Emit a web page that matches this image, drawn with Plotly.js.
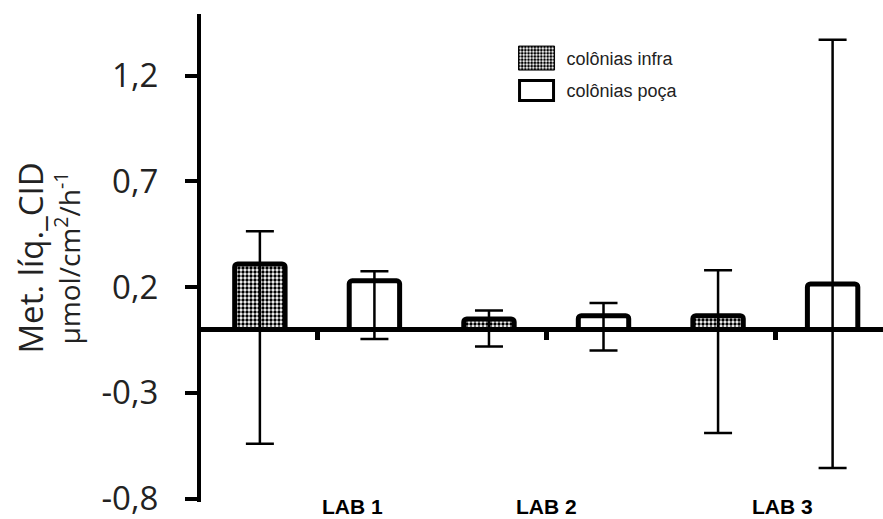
<!DOCTYPE html>
<html>
<head>
<meta charset="utf-8">
<script src="https://cdn.plot.ly/plotly-3.0.1.min.js"></script>
<style>html,body{margin:0;padding:0;background:#fff}#chart{width:883px;height:519px}</style>
</head>
<body>
<div id="chart"></div>
<script>
const categories = ['LAB 1', 'LAB 2', 'LAB 3'];
const seriesNames = ['colônias infra', 'colônias poça'];
const infraValues = [0.31, 0.05, 0.065];
const infraErrPlus = [0.155, 0.04, 0.215];
const infraErrMinus = [0.85, 0.13, 0.555];
const pocaValues = [0.23, 0.065, 0.215];
const pocaErrPlus = [0.045, 0.06, 1.155];
const pocaErrMinus = [0.275, 0.165, 0.87];
const yTickVals = [-0.8, -0.3, 0.2, 0.7, 1.2];
const yTickText = ['-0,8', '-0,3', '0,2', '0,7', '1,2'];

const yRange = [-0.816, 1.492];
const zeroPos = (0 - yRange[0]) / (yRange[1] - yRange[0]);

const errStyle = {type: 'data', symmetric: false, color: '#000', thickness: 2.5, width: 14};

const traces = [
  {
    type: 'bar', name: seriesNames[0], x: categories, y: infraValues, legendgroup: 'g1',
    marker: {color: '#fff', line: {color: '#000', width: 5}, cornerradius: 3,
      pattern: {shape: '.', fgcolor: '#000', bgcolor: '#fff', size: 4, solidity: 0.55}},
    error_y: Object.assign({array: infraErrPlus, arrayminus: infraErrMinus}, errStyle)
  },
  {
    type: 'bar', name: seriesNames[1], x: categories, y: pocaValues, legendgroup: 'g2',
    marker: {color: '#fff', line: {color: '#000', width: 5}, cornerradius: 3},
    error_y: Object.assign({array: pocaErrPlus, arrayminus: pocaErrMinus}, errStyle)
  }
];

const labelShift = [35, 0, 7];
const annotations = categories.map((c, i) => ({
  xref: 'x', yref: 'paper', x: i, y: 0, yanchor: 'middle', yshift: -4, xshift: labelShift[i],
  text: '<b>' + c + '</b>', showarrow: false,
  font: {family: '"Liberation Sans Narrow", "Liberation Sans", Arial, sans-serif', size: 21, color: '#000'}
}));

const layout = {
  width: 883, height: 519,
  margin: {l: 201, r: 0, t: 14, b: 17},
  paper_bgcolor: '#fff', plot_bgcolor: '#fff',
  barmode: 'group', bargap: 0, bargroupgap: 0.56,
  showlegend: true,
  legend: {x: 0.448, y: 0.947, xanchor: 'left', yanchor: 'top', bgcolor: 'rgba(0,0,0,0)',
    font: {family: '"Liberation Sans", Arial, sans-serif', size: 18, color: '#222'},
    itemwidth: 50, traceorder: 'grouped', tracegroupgap: 6},
  xaxis: {
    type: 'category', range: [-0.507, 2.47], anchor: 'free', position: zeroPos,
    showline: true, linecolor: '#000', linewidth: 5,
    ticks: 'outside', ticklen: 8, tickwidth: 5, tickcolor: '#000',
    showticklabels: false, showgrid: false, zeroline: false, fixedrange: true
  },
  yaxis: {
    range: yRange, showline: true, linecolor: '#000', linewidth: 4,
    ticks: 'outside', ticklen: 12, tickwidth: 4, tickcolor: '#000',
    tickvals: yTickVals, ticktext: yTickText, ticklabelstandoff: 20, ticklabeloverflow: 'allow',
    tickfont: {family: '"Open Sans", sans-serif', size: 33, color: '#222'},
    showgrid: false, zeroline: false,
    title: {text: '<span style="font-size:33px">Met. líq._CID</span><br>µmol/cm<sup>2</sup>/h<sup>-1</sup>',
      font: {family: '"Open Sans", sans-serif', size: 28, color: '#222'}, standoff: 14}
  },
  annotations: annotations
};

Plotly.newPlot('chart', traces, layout, {displayModeBar: false, staticPlot: true}).then(function (gd) {
  // enlarge legend swatches to match the reference's wide boxes
  gd.querySelectorAll('.legend .traces').forEach(function (g, i) {
    g.querySelectorAll('.legendpoints path').forEach(function (p) {
      p.setAttribute('d', i === 0 ? 'M18,12H-18V-12H18Z' : 'M17,10H-17V-10H17Z');
      p.style.strokeWidth = i === 0 ? '1px' : '3px';
    });
  });
});
</script>
</body>
</html>
